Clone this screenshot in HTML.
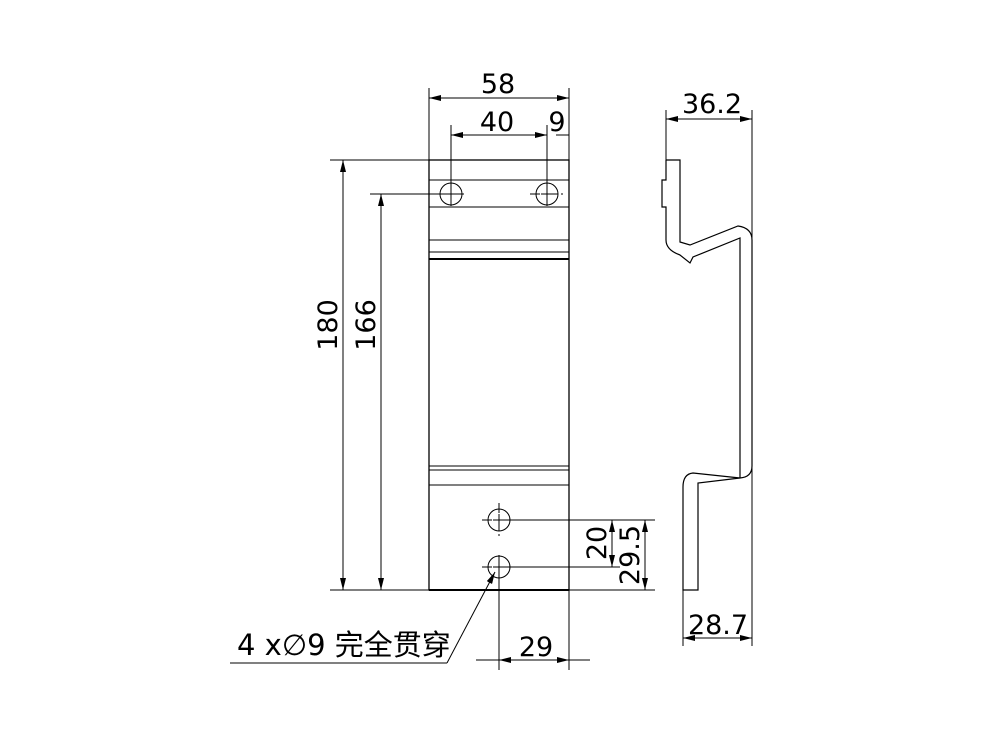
<!DOCTYPE html>
<html><head><meta charset="utf-8"><style>body{margin:0;background:#fff}svg{display:block}text{font-family:"DejaVu Sans","Noto Sans CJK SC",sans-serif;font-size:27px;fill:#000}</style></head><body>
<svg width="1000" height="750" viewBox="0 0 1000 750" xmlns="http://www.w3.org/2000/svg">
<defs><marker id="a" viewBox="0 0 12 6" refX="12" refY="3" markerWidth="12" markerHeight="6" orient="auto-start-reverse" markerUnits="userSpaceOnUse"><path d="M0,0L12,3L0,6z" fill="#000"/></marker></defs>
<g stroke="#000" stroke-width="1" fill="none">
<rect x="429" y="160" width="140" height="430" stroke-width="1.3"/>
<line x1="429" y1="180" x2="569" y2="180"/><line x1="429" y1="207" x2="569" y2="207"/>
<line x1="429" y1="240" x2="569" y2="240"/><line x1="429" y1="252" x2="569" y2="252"/>
<line x1="429" y1="259" x2="569" y2="259" stroke-width="2"/>
<line x1="429" y1="466" x2="569" y2="466"/><line x1="429" y1="470" x2="569" y2="470"/>
<line x1="429" y1="485" x2="569" y2="485"/>
<line x1="429" y1="590" x2="569" y2="590" stroke-width="2"/>
<circle cx="451" cy="194" r="11"/><circle cx="547" cy="194" r="11"/>
<circle cx="499" cy="520" r="11"/><circle cx="499" cy="567" r="11"/>
<g stroke-dasharray="10,3,2,3">
<line x1="436" y1="194" x2="467" y2="194"/><line x1="530" y1="194" x2="563" y2="194"/>
<line x1="482" y1="520" x2="516" y2="520"/><line x1="482" y1="567" x2="516" y2="567"/>
<line x1="499" y1="503" x2="499" y2="537"/>
</g>
<line x1="445" y1="194" x2="457" y2="194"/><line x1="541" y1="194" x2="553" y2="194"/>
<line x1="493" y1="520" x2="505" y2="520"/><line x1="493" y1="567" x2="505" y2="567"/>
<line x1="499" y1="514" x2="499" y2="526"/>
<line x1="451" y1="185" x2="451" y2="206"/><line x1="547" y1="185" x2="547" y2="206"/>
<line x1="429" y1="88" x2="429" y2="160"/><line x1="569" y1="88" x2="569" y2="160"/>
<line x1="429" y1="98" x2="569" y2="98" marker-start="url(#a)" marker-end="url(#a)"/>
<line x1="451" y1="125" x2="451" y2="206"/><line x1="547" y1="125" x2="547" y2="206"/>
<line x1="451" y1="135" x2="547" y2="135" marker-start="url(#a)" marker-end="url(#a)"/>
<line x1="569" y1="135" x2="556" y2="135"/>
<line x1="330" y1="160" x2="429" y2="160"/><line x1="370" y1="194" x2="440" y2="194"/>
<line x1="330" y1="590" x2="429" y2="590"/>
<line x1="343" y1="160" x2="343" y2="590" marker-start="url(#a)" marker-end="url(#a)"/>
<line x1="381" y1="194" x2="381" y2="590" marker-start="url(#a)" marker-end="url(#a)"/>
<line x1="510" y1="520" x2="655" y2="520"/><line x1="510" y1="567" x2="620" y2="567"/>
<line x1="569" y1="590" x2="655" y2="590"/>
<line x1="612" y1="520" x2="612" y2="567" marker-start="url(#a)" marker-end="url(#a)"/>
<line x1="645" y1="520" x2="645" y2="590" marker-start="url(#a)" marker-end="url(#a)"/>
<line x1="499" y1="555" x2="499" y2="670"/><line x1="569" y1="590" x2="569" y2="670"/>
<line x1="476" y1="660" x2="590" y2="660"/>
<line x1="499" y1="660" x2="569" y2="660" marker-start="url(#a)" marker-end="url(#a)"/>
<line x1="447" y1="663" x2="495" y2="572" marker-end="url(#a)"/>
<line x1="230" y1="663" x2="447" y2="663"/>
<path d="M666,160 L680,160 L680,242 L690,245 L738,226 Q752,228 752,240 L752,466 Q752,477 740,478 L693,473 Q683,474 683,487 L683,590 L698,590 L698,483 L740,478" stroke-width="1.2"/>
<path d="M740,478 L740,467 L740,238 L693,257 L690,263 L680,255 Q666,250 666,240 L666,207 L662,207 L662,180 L666,180 L666,160" stroke-width="1.2"/>
<line x1="666" y1="110" x2="666" y2="160"/><line x1="752" y1="110" x2="752" y2="240"/>
<line x1="666" y1="119" x2="752" y2="119" marker-start="url(#a)" marker-end="url(#a)"/>
<line x1="683" y1="590" x2="683" y2="646"/><line x1="752" y1="466" x2="752" y2="646"/>
<line x1="683" y1="638" x2="752" y2="638" marker-start="url(#a)" marker-end="url(#a)"/>
</g>
<text x="498" y="93" text-anchor="middle">58</text>
<text x="497" y="131" text-anchor="middle">40</text>
<text x="557" y="131" text-anchor="middle">9</text>
<text transform="translate(337,325) rotate(-90)" text-anchor="middle">180</text>
<text transform="translate(375,325) rotate(-90)" text-anchor="middle">166</text>
<text transform="translate(606,543) rotate(-90)" text-anchor="middle">20</text>
<text transform="translate(639,555) rotate(-90)" text-anchor="middle">29.5</text>
<text x="536" y="656" text-anchor="middle">29</text>
<text x="712" y="113" text-anchor="middle">36.2</text>
<text x="718" y="634" text-anchor="middle">28.7</text>
<text x="237" y="655" style="font-size:29px">4 x∅9 完全贯穿</text>
</svg>
</body></html>
